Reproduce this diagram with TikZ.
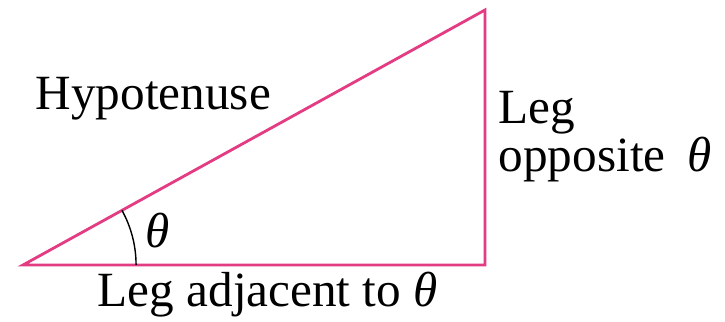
\documentclass[tikz,border=0pt]{standalone}
\usepackage{fontspec}
\setmainfont{Liberation Serif}
\definecolor{legpink}{RGB}{228,60,130}
\begin{document}
\begin{tikzpicture}[x=0.01cm,y=0.01cm,
  lbl/.style={anchor=base west,inner sep=0pt,font=\fontsize{14}{17}\selectfont},
  side/.style={draw=legpink,line width=0.8pt,line join=miter}]
\useasboundingbox (0,0) rectangle (725,322);
\coordinate (A) at (23,57);
\coordinate (B) at (485,57);
\coordinate (C) at (485,312);
\draw[side] (A) -- (B) -- (C) -- cycle;
\draw[black,line width=0.4pt] ([shift={(0:1.13cm)}]A) arc[start angle=0,end angle=28.9,radius=1.13cm];
\node[lbl] (hyp) at (35,212) {Hypotenuse};
\node[lbl,align=left,font=\fontsize{14}{11.9}\selectfont] (opp) at (498,150) {Leg\\opposite\hspace{0.45em}\textit{θ}};
\node[lbl] (th) at (145,74) {\textit{θ}};
\node[lbl] (adj) at (97,15) {Leg adjacent to \textit{θ}};
\end{tikzpicture}
\end{document}
